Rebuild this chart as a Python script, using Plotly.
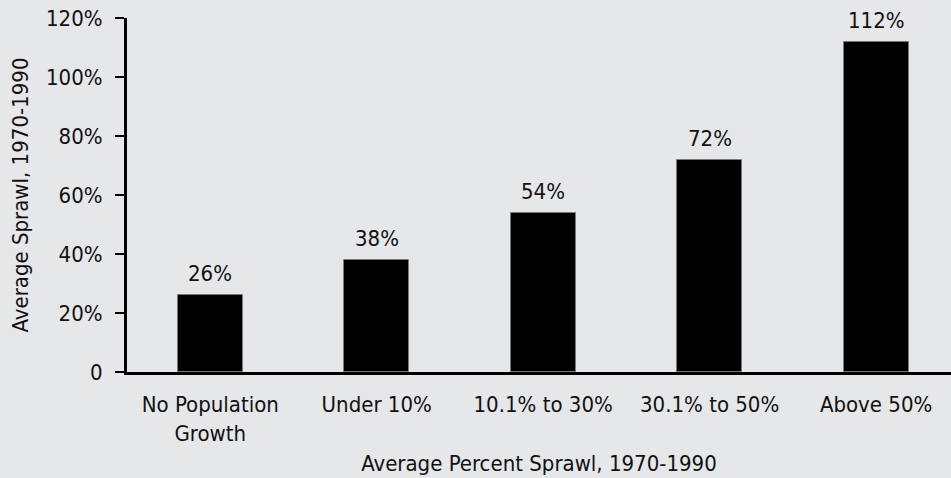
import plotly.graph_objects as go

categories = ["No Population<br>Growth", "Under 10%", "10.1% to 30%", "30.1% to 50%", "Above 50%"]
values = [26, 38, 54, 72, 112]
labels = ["26%", "38%", "54%", "72%", "112%"]
ytick_vals = [0, 20, 40, 60, 80, 100, 120]
ytick_text = ["0", "20%", "40%", "60%", "80%", "100%", "120%"]

FONT = "DejaVu Sans Condensed, Liberation Sans Narrow, sans-serif"
BG = "#e6e7e9"

x_idx = list(range(len(categories)))

fig = go.Figure()
fig.add_trace(go.Bar(
    x=x_idx, y=values,
    width=0.39,
    marker=dict(color="black", line=dict(color="#7a7a7a", width=1)),
))

for xi, v, lab in zip(x_idx, values, labels):
    fig.add_annotation(
        x=xi, y=v, text=lab, showarrow=False,
        xanchor="center", yanchor="bottom", yshift=7,
        font=dict(family=FONT, size=22, color="#111"),
    )

fig.update_layout(
    width=951, height=478,
    paper_bgcolor=BG, plot_bgcolor=BG,
    margin=dict(l=127, r=0, t=18, b=106),
    font=dict(family=FONT, size=22, color="#111"),
    showlegend=False,
    bargap=0,
)
fig.update_xaxes(
    range=[-0.5, 4.45],
    tickvals=x_idx, ticktext=categories,
    showline=True, linecolor="black", linewidth=3,
    ticks="", showgrid=False, zeroline=False,
    ticklabelstandoff=11,
    tickfont=dict(family=FONT, size=22),
    title=dict(text="Average Percent Sprawl, 1970-1990", font=dict(family=FONT, size=22), standoff=11),
)
fig.update_yaxes(
    range=[0, 120],
    tickvals=ytick_vals, ticktext=ytick_text,
    showline=True, linecolor="black", linewidth=3,
    ticks="outside", ticklen=9, tickwidth=2, tickcolor="black",
    showgrid=False, zeroline=False,
    ticklabelstandoff=8,
    tickfont=dict(family=FONT, size=22),
    title=dict(text="Average Sprawl, 1970-1990", font=dict(family=FONT, size=22), standoff=12),
)

fig.write_html("out.html", config={"displayModeBar": False},
               post_script="document.body.style.margin='0';document.body.style.background='%s';" % BG)
